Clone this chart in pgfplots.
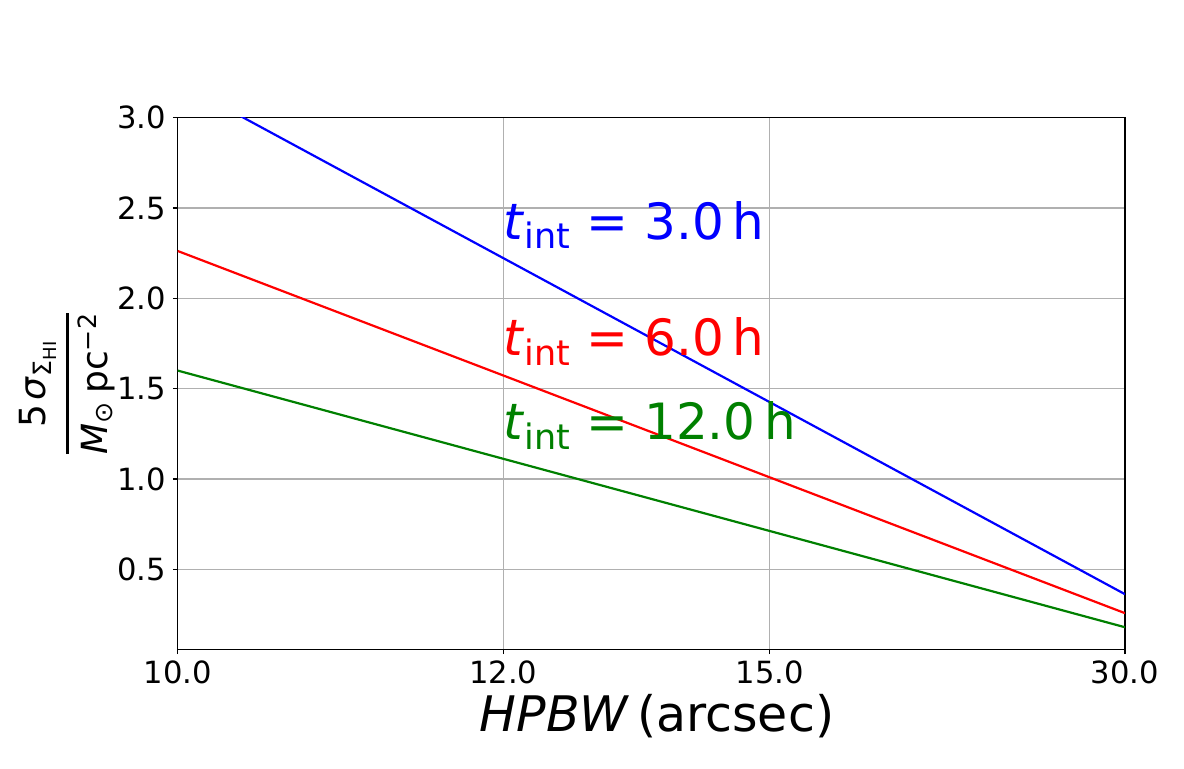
\documentclass[border=0pt]{standalone}
\usepackage{pgfplots}
\pgfplotsset{compat=1.18}
\usepackage{amsmath}
\usepackage{fontspec}
\setmainfont{DejaVu Sans}
\definecolor{mplgreen}{RGB}{0,128,0}
\definecolor{gridgray}{RGB}{176,176,176}
\begin{document}
\begin{tikzpicture}
\useasboundingbox (-88.85pt,-59.85pt) rectangle (503.15pt,324.65pt);
\begin{axis}[
  at={(0,0)}, anchor=south west,
  scale only axis, width=473.65pt, height=265.8pt,
  x dir=reverse,
  xmin=0.111111, xmax=1, ymin=0.057, ymax=3.0,
  xtick={1,0.694444,0.444444,0.111111},
  xticklabels={10.0,12.0,15.0,30.0},
  ytick={0.5,1.0,1.5,2.0,2.5,3.0},
  xtick pos=bottom, ytick pos=left,
  yticklabel style={/pgf/number format/.cd, fixed, fixed zerofill, precision=1, assume math mode=true},
  tick label style={font=\fontsize{15.3}{18}\selectfont},
  grid=major, major grid style={gridgray, line width=0.55pt},
  tick align=outside, major tick length=2.43pt,
  tick style={black, line width=0.55pt},
  axis line style={line width=0.55pt},
  xlabel={\textit{HPBW}\hspace{0.15em}(arcsec)},
  every axis x label/.style={font=\fontsize{24.5}{29}\selectfont, at={(axis description cs:0.506,0)}, anchor=center, yshift=-33.2pt},
  ylabel={$\genfrac{}{}{1.5pt}{0}{\text{5\hspace{0.12em}\textit{σ}}_{\text{Σ}_{\text{HI}}}}{\text{\textit{M}}_{\text{⊙}}\hspace{0.2em}\text{pc}^{\text{−2}}}$},
  every axis y label/.style={font=\fontsize{18}{22}\selectfont, at={(axis description cs:-0.1170,0.5)}, anchor=center, rotate=90},
  clip=true,
]
\addplot[blue, line width=1.1pt] coordinates {(1,3.197) (0.111111,0.362)};
\addplot[red, line width=1.1pt] coordinates {(1,2.262) (0.111111,0.257)};
\addplot[mplgreen, line width=1.1pt] coordinates {(1,1.600) (0.111111,0.179)};
\node[anchor=base west, inner sep=0, text=blue, font=\fontsize{25}{30}\selectfont] at (axis cs:0.694444,2.327) {\textit{t}\textsubscript{int}\hspace{0.3em}=\hspace{0.32em}3.0\hspace{0.17em}h};
\node[anchor=base west, inner sep=0, text=red, font=\fontsize{25}{30}\selectfont] at (axis cs:0.694444,1.681) {\textit{t}\textsubscript{int}\hspace{0.3em}=\hspace{0.32em}6.0\hspace{0.17em}h};
\node[anchor=base west, inner sep=0, text=mplgreen, font=\fontsize{25}{30}\selectfont] at (axis cs:0.694444,1.216) {\textit{t}\textsubscript{int}\hspace{0.3em}=\hspace{0.32em}12.0\hspace{0.17em}h};
\end{axis}
\end{tikzpicture}
\end{document}
